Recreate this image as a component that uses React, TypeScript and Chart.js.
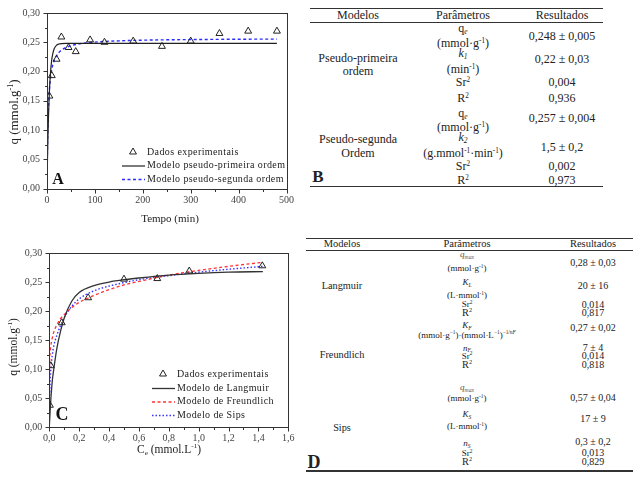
import React, { useEffect, useRef } from "react";
import { Chart, registerables } from "chart.js";
Chart.register(...registerables);

const SERIF = '"Liberation Serif", Tinos, "DejaVu Serif", serif';

// ---------- Panel A: kinetics ----------
const timeExp = [5, 10, 20, 30, 45, 60, 90, 120, 180, 240, 300, 360, 420, 480];
const qTimeExp = [0.158, 0.193, 0.221, 0.259, 0.241, 0.234, 0.254, 0.25, 0.252, 0.243, 0.252, 0.265, 0.269, 0.269];
const timeFit = [0, 1, 2, 3, 4, 5, 6, 8, 10, 12, 15, 20, 25, 30, 40, 50, 60, 80, 100, 150, 200, 250, 300, 350, 400, 450, 480];
const qPFO = [0, 0.049, 0.088, 0.12, 0.145, 0.165, 0.182, 0.205, 0.221, 0.23, 0.239, 0.245, 0.247, 0.2477, 0.248, 0.248, 0.248, 0.248, 0.248, 0.248, 0.248, 0.248, 0.248, 0.248, 0.248, 0.248, 0.248];
const qPSO = [0, 0.0715, 0.1118, 0.1377, 0.1558, 0.1691, 0.1793, 0.1939, 0.2039, 0.2112, 0.2189, 0.2273, 0.2327, 0.2364, 0.2412, 0.2441, 0.2462, 0.2487, 0.2503, 0.2524, 0.2535, 0.2542, 0.2546, 0.2549, 0.2552, 0.2553, 0.2554];
const labelsA = ["Dados experimentais", "Modelo pseudo-primeira ordem", "Modelo pseudo-segunda ordem"];
const xTicksA = { min: 0, max: 500, step: 100 };

// ---------- Panel C: isotherms ----------
const ceExp = [0.004, 0.01, 0.083, 0.26, 0.5, 0.723, 0.937, 1.426];
const qeExp = [0.038, 0.106, 0.18, 0.223, 0.255, 0.256, 0.269, 0.278];
const ceFit = [0, 0.002, 0.005, 0.01, 0.02, 0.03, 0.05, 0.075, 0.1, 0.15, 0.2, 0.3, 0.4, 0.5, 0.6, 0.8, 1.0, 1.2, 1.43];
const qLangmuir = [0, 0.011, 0.026, 0.047, 0.08, 0.1, 0.135, 0.165, 0.188, 0.217, 0.232, 0.244, 0.25, 0.254, 0.257, 0.262, 0.265, 0.267, 0.268];
const qFreundlich = [0, 0.111, 0.127, 0.14, 0.154, 0.164, 0.176, 0.187, 0.194, 0.206, 0.215, 0.227, 0.237, 0.245, 0.251, 0.262, 0.27, 0.277, 0.284];
const qSips = [0, 0.05, 0.075, 0.098, 0.124, 0.14, 0.158, 0.175, 0.189, 0.208, 0.221, 0.235, 0.243, 0.249, 0.254, 0.261, 0.267, 0.272, 0.277];
const labelsC = ["Dados experimentais", "Modelo de Langmuir", "Modelo de Freundlich", "Modelo de Sips"];
const xTicksC = { min: 0, max: 1.6, step: 0.2 };
const yTicks = { min: 0, max: 0.3, step: 0.05 };

// ---------- Tables ----------
const headers = ["Modelos", "Parâmetros", "Resultados"];
const modelsB = [["Pseudo-primeira", "ordem"], ["Pseudo-segunda", "Ordem"]];
const resultsB = ["0,248 ± 0,005", "0,22 ± 0,03", "0,004", "0,936", "0,257 ± 0,004", "1,5 ± 0,2", "0,002", "0,973"];
const modelsD = ["Langmuir", "Freundlich", "Sips"];
const resultsD = ["0,28 ± 0,03", "20 ± 16", "0,014", "0,817", "0,27 ± 0,02", "7 ± 4", "0,014", "0,818", "0,57 ± 0,04", "17 ± 9", "0,3 ± 0,2", "0,013", "0,829"];

type Seg = { t: string; sup?: boolean; sub?: boolean; it?: boolean };

function segFont(s: Seg, size: number) {
  const sz = s.sup || s.sub ? size * 0.62 : size;
  return `${s.it ? "italic " : ""}${sz}px ${SERIF}`;
}
function drawRich(ctx: CanvasRenderingContext2D, segs: Seg[], cx: number, cy: number, size: number) {
  let w = 0;
  for (const s of segs) { ctx.font = segFont(s, size); w += ctx.measureText(s.t).width; }
  let x = cx - w / 2;
  ctx.textAlign = "left";
  ctx.textBaseline = "alphabetic";
  const base = cy + size * 0.33;
  for (const s of segs) {
    ctx.font = segFont(s, size);
    const dy = s.sup ? -size * 0.42 : s.sub ? size * 0.2 : 0;
    ctx.fillText(s.t, x, base + dy);
    x += ctx.measureText(s.t).width;
  }
}

interface DecorCfg {
  xMajor: number; xMinor: number; yMajor: number; yMinor: number;
  xTitle: Seg[]; xTitlePos: [number, number]; xTitleSize: number;
  yTitle: Seg[]; yTitlePos: [number, number]; yTitleSize: number;
  legendYs: number[]; legendLine: [number, number]; legendPointX: number; legendTextX: number;
  letter: string; letterPos: [number, number]; letterSize: number;
}

function makeDecor(c: DecorCfg) {
  return {
    id: "decor",
    afterDraw(chart: any) {
      const ctx: CanvasRenderingContext2D = chart.ctx;
      const a = chart.chartArea;
      const xs = chart.scales.x, ys = chart.scales.y;
      ctx.save();
      ctx.strokeStyle = "#333";
      ctx.lineWidth = 1;
      ctx.setLineDash([]);
      const L = Math.round(a.left) + 0.5, R = Math.round(a.right) + 0.5;
      const T = Math.round(a.top) + 0.5, B = Math.round(a.bottom) + 0.5;
      ctx.strokeRect(L, T, R - L, B - T);
      ctx.beginPath();
      const nx = Math.round((xs.max - xs.min) / c.xMinor);
      const rx = Math.round(c.xMajor / c.xMinor);
      for (let i = 0; i <= nx; i++) {
        const p = Math.round(xs.getPixelForValue(xs.min + i * c.xMinor)) + 0.5;
        const len = i % rx === 0 ? 4 : 2.5;
        ctx.moveTo(p, B); ctx.lineTo(p, B + len);
      }
      const ny = Math.round((ys.max - ys.min) / c.yMinor);
      const ry = Math.round(c.yMajor / c.yMinor);
      for (let i = 0; i <= ny; i++) {
        const p = Math.round(ys.getPixelForValue(ys.min + i * c.yMinor)) + 0.5;
        const len = i % ry === 0 ? 4 : 2.5;
        ctx.moveTo(L, p); ctx.lineTo(L - len, p);
      }
      ctx.stroke();

      ctx.fillStyle = "#222";
      drawRich(ctx, c.xTitle, c.xTitlePos[0], c.xTitlePos[1], c.xTitleSize);
      ctx.save();
      ctx.translate(c.yTitlePos[0], c.yTitlePos[1]);
      ctx.rotate(-Math.PI / 2);
      drawRich(ctx, c.yTitle, 0, 0, c.yTitleSize);
      ctx.restore();

      // legend
      chart.data.datasets.forEach((ds: any, i: number) => {
        const y = c.legendYs[i];
        if (y === undefined) return;
        if (ds.showLine === false) {
          const r = ds.pointRadius;
          ctx.beginPath();
          let rad = 0;
          const px = c.legendPointX;
          ctx.moveTo(px + Math.sin(rad) * r, y - Math.cos(rad) * r);
          rad += (2 * Math.PI) / 3;
          ctx.lineTo(px + Math.sin(rad) * r, y - Math.cos(rad) * r);
          rad += (2 * Math.PI) / 3;
          ctx.lineTo(px + Math.sin(rad) * r, y - Math.cos(rad) * r);
          ctx.closePath();
          ctx.strokeStyle = ds.pointBorderColor;
          ctx.lineWidth = 1;
          ctx.setLineDash([]);
          ctx.stroke();
        } else {
          ctx.beginPath();
          ctx.strokeStyle = ds.borderColor;
          ctx.lineWidth = ds.borderWidth;
          ctx.setLineDash(ds.borderDash || []);
          ctx.moveTo(c.legendLine[0], y + 0.5);
          ctx.lineTo(c.legendLine[1], y + 0.5);
          ctx.stroke();
          ctx.setLineDash([]);
        }
        ctx.fillStyle = "#222";
        ctx.font = `10px ${SERIF}`;
        (ctx as any).letterSpacing = "0.4px";
        ctx.textAlign = "left";
        ctx.textBaseline = "middle";
        ctx.fillText(ds.label, c.legendTextX, y);
        (ctx as any).letterSpacing = "0px";
      });

      ctx.fillStyle = "#111";
      ctx.font = `bold ${c.letterSize}px ${SERIF}`;
      ctx.textAlign = "center";
      ctx.textBaseline = "middle";
      ctx.fillText(c.letter, c.letterPos[0], c.letterPos[1]);
      ctx.restore();
    },
  };
}

function axes(xt: { min: number; max: number; step: number }, xFmt: (v: number) => string, yW: number, xH: number, yPad: number, xPad: number) {
  return {
    x: {
      type: "linear" as const,
      min: xt.min, max: xt.max,
      grid: { display: false, drawTicks: false },
      border: { display: false },
      afterFit: (s: any) => { s.height = xH; },
      ticks: { stepSize: xt.step, padding: xPad, color: "#444", font: { family: SERIF, size: 10 }, callback: (v: any) => xFmt(Number(v)), maxRotation: 0, autoSkip: false },
    },
    y: {
      type: "linear" as const,
      min: yTicks.min, max: yTicks.max,
      grid: { display: false, drawTicks: false },
      border: { display: false },
      afterFit: (s: any) => { s.width = yW; },
      ticks: { stepSize: yTicks.step, padding: yPad, color: "#444", font: { family: SERIF, size: 10 }, callback: (v: any) => Number(v).toFixed(2).replace(".", ",") },
    },
  };
}

function pts(xs: number[], ys: number[]) {
  return xs.map((x, i) => ({ x, y: ys[i] }));
}

const expStyle = {
  showLine: false,
  pointStyle: "triangle",
  pointRadius: 4,
  pointBorderColor: "#222",
  pointBackgroundColor: "rgba(255,255,255,0)",
  pointBorderWidth: 1,
  borderColor: "#222",
};

function lineStyle(color: string, width: number, dash: number[]) {
  return { borderColor: color, borderWidth: width, borderDash: dash, pointRadius: 0, cubicInterpolationMode: "monotone", fill: false };
}

const Sup = ({ children }: { children: React.ReactNode }) => (
  <span style={{ fontSize: "0.6em", position: "relative", top: "-0.6em" }}>{children}</span>
);
const Sub = ({ children }: { children: React.ReactNode }) => (
  <span style={{ fontSize: "0.62em", position: "relative", top: "0.3em" }}>{children}</span>
);

const paramsB: React.ReactNode[] = [
  <>q<Sub><i>e</i></Sub></>,
  <>(mmol·g<Sup>-1</Sup>)</>,
  <><i>k</i><Sub><i>1</i></Sub></>,
  <>(min<Sup>-1</Sup>)</>,
  <>Sr<Sup>2</Sup></>,
  <>R<Sup>2</Sup></>,
  <>q<Sub><i>e</i></Sub></>,
  <>(mmol·g<Sup>-1</Sup>)</>,
  <><i>k</i><Sub><i>2</i></Sub></>,
  <>(g.mmol<Sup>-1</Sup>·min<Sup>-1</Sup>)</>,
  <>Sr<Sup>2</Sup></>,
  <>R<Sup>2</Sup></>,
];

const paramsD: React.ReactNode[] = [
  <i style={{ color: "#555" }}>q<Sub>max</Sub></i>,
  <>(mmol·g<Sup>-1</Sup>)</>,
  <i>K<Sub>L</Sub></i>,
  <>(L·mmol<Sup>-1</Sup>)</>,
  <>Sr<Sup>2</Sup></>,
  <span style={{ fontSize: "1.15em" }}>R<Sup>2</Sup></span>,
  <i>K<Sub>F</Sub></i>,
  <>(mmol·g<Sup>−1</Sup>)·(mmol·L<Sup>−1</Sup>)<Sup>−1/<i>nF</i></Sup></>,
  <i>n<Sub>F</Sub></i>,
  <>Sr<Sup>2</Sup></>,
  <span style={{ fontSize: "1.15em" }}>R<Sup>2</Sup></span>,
  <i style={{ color: "#555" }}>q<Sub>max</Sub></i>,
  <>(mmol·g<Sup>-1</Sup>)</>,
  <i>K<Sub>S</Sub></i>,
  <>(L·mmol<Sup>-1</Sup>)</>,
  <i>n<Sub>S</Sub></i>,
  <>Sr<Sup>2</Sup></>,
  <span style={{ fontSize: "1.15em" }}>R<Sup>2</Sup></span>,
];

// layout (text centre positions)
const layB = {
  cols: [358, 463, 562], header: 15, lines: [8.3, 22.7, 186.7], x0: 310, x1: 603,
  models: [[58, 71], [139, 153]],
  params: [28, 43, 53, 69, 82, 98, 113, 127, 137, 153, 166, 180],
  results: [36, 59, 82, 98, 118, 147, 166, 180],
};
const layD = {
  cols: [342, 467, 593], header: 244, lines: [238.3, 250, 471], x0: 306, x1: 633,
  models: [286, 355, 428],
  params: [254, 268, 282, 295, 304, 313, 325, 334.5, 347.5, 355.5, 365, 387, 398, 414, 426, 443, 453, 462],
  results: [262.7, 286, 304.5, 313, 327.7, 347.7, 355.7, 365, 397.7, 419.3, 441.7, 453.3, 462.3],
};

const T = ({ x, y, size, bold, children }: { x: number; y: number; size: number; bold?: boolean; children: React.ReactNode }) => (
  <div style={{ position: "absolute", left: x, top: y, transform: "translate(-50%,-50%)", fontSize: size, lineHeight: 1, whiteSpace: "nowrap", fontWeight: bold ? 700 : 400 }}>{children}</div>
);
const HLine = ({ x0, x1, y, w }: { x0: number; x1: number; y: number; w: number }) => (
  <div style={{ position: "absolute", left: x0, top: y - w / 2, width: x1 - x0, height: w, background: "#333" }} />
);

export default function App() {
  const refA = useRef<HTMLCanvasElement>(null);
  const refC = useRef<HTMLCanvasElement>(null);

  useEffect(() => {
    const chartA = new Chart(refA.current!, {
      type: "line",
      data: {
        datasets: [
          { label: labelsA[0], data: pts(timeExp, qTimeExp), ...expStyle } as any,
          { label: labelsA[1], data: pts(timeFit, qPFO), ...lineStyle("#222", 1.2, []) } as any,
          { label: labelsA[2], data: pts(timeFit, qPSO), ...lineStyle("#2b2bff", 1.4, [3, 2.5]) } as any,
        ],
      },
      options: {
        responsive: false,
        animation: false,
        layout: { padding: { top: 7.5, right: 7, left: 0, bottom: 0 } },
        plugins: { legend: { display: false }, tooltip: { enabled: false } },
        scales: axes(xTicksA, (v) => String(Math.round(v)), 47, 43.5, 7, 6) as any,
      },
      plugins: [
        makeDecor({
          xMajor: 100, xMinor: 50, yMajor: 0.05, yMinor: 0.025,
          xTitle: [{ t: "Tempo (min)" }], xTitlePos: [170, 218], xTitleSize: 11,
          yTitle: [{ t: "q (mmol.g" }, { t: "-1", sup: true }, { t: ")" }], yTitlePos: [14, 112], yTitleSize: 13,
          legendYs: [152, 165.5, 179], legendLine: [122, 145], legendPointX: 133, legendTextX: 147,
          letter: "A", letterPos: [58, 180], letterSize: 16,
        }),
      ],
    });

    const chartC = new Chart(refC.current!, {
      type: "line",
      data: {
        datasets: [
          { label: labelsC[0], data: pts(ceExp, qeExp), ...expStyle } as any,
          { label: labelsC[1], data: pts(ceFit, qLangmuir), ...lineStyle("#333", 1.3, []) } as any,
          { label: labelsC[2], data: pts(ceFit, qFreundlich), ...lineStyle("#ff3333", 1.3, [3, 2.5]) } as any,
          { label: labelsC[3], data: pts(ceFit, qSips), ...lineStyle("#3333ff", 1.4, [1.5, 2]) } as any,
        ],
      },
      options: {
        responsive: false,
        animation: false,
        layout: { padding: { top: 11, right: 11.7, left: 0, bottom: 0 } },
        plugins: { legend: { display: false }, tooltip: { enabled: false } },
        scales: axes(xTicksC, (v) => v.toFixed(1).replace(".", ","), 49.3, 52.7, 7, 5) as any,
      },
      plugins: [
        makeDecor({
          xMajor: 0.2, xMinor: 0.1, yMajor: 0.05, yMinor: 0.025,
          xTitle: [{ t: "C" }, { t: "e", sub: true }, { t: " (mmol.L" }, { t: "-1", sup: true }, { t: ")" }], xTitlePos: [169, 209], xTitleSize: 11.5,
          yTitle: [{ t: "q (mmol.g" }, { t: "-1", sup: true }, { t: ")" }], yTitlePos: [13, 107], yTitleSize: 11.5,
          legendYs: [134, 148, 161.5, 175], legendLine: [152, 175], legendPointX: 163, legendTextX: 177,
          letter: "C", letterPos: [62, 175], letterSize: 18,
        }),
      ],
    });

    return () => { chartA.destroy(); chartC.destroy(); };
  }, []);

  return (
    <div style={{ position: "fixed", left: 0, top: 0, width: 640, height: 480, background: "#fff", fontFamily: SERIF, color: "#222", overflow: "hidden" }}>
      <canvas ref={refA} width={300} height={232} style={{ position: "absolute", left: 0, top: 0 }} />
      <canvas ref={refC} width={300} height={240} style={{ position: "absolute", left: 0, top: 240 }} />

      {/* Table B */}
      <HLine x0={layB.x0} x1={layB.x1} y={layB.lines[0]} w={1.5} />
      <HLine x0={layB.x0} x1={layB.x1} y={layB.lines[1]} w={1} />
      <HLine x0={layB.x0} x1={layB.x1} y={layB.lines[2]} w={1.5} />
      {headers.map((h, i) => <T key={"hb" + i} x={layB.cols[i]} y={layB.header} size={12}>{h}</T>)}
      {modelsB.map((m, i) => m.map((line, j) => <T key={"mb" + i + j} x={layB.cols[0]} y={layB.models[i][j]} size={12}>{line}</T>))}
      {paramsB.map((p, i) => <T key={"pb" + i} x={layB.cols[1]} y={layB.params[i]} size={12}>{p}</T>)}
      {resultsB.map((r, i) => <T key={"rb" + i} x={layB.cols[2]} y={layB.results[i]} size={12}>{r}</T>)}
      <T x={318} y={176} size={17} bold>B</T>

      {/* Table D */}
      <HLine x0={layD.x0} x1={layD.x1} y={layD.lines[0]} w={1.5} />
      <HLine x0={layD.x0} x1={layD.x1} y={layD.lines[1]} w={1} />
      <HLine x0={layD.x0} x1={layD.x1} y={layD.lines[2]} w={1.5} />
      {headers.map((h, i) => <T key={"hd" + i} x={layD.cols[i]} y={layD.header} size={10.5}>{h}</T>)}
      {modelsD.map((m, i) => <T key={"md" + i} x={layD.cols[0]} y={layD.models[i]} size={10.3}>{m}</T>)}
      {paramsD.map((p, i) => <T key={"pd" + i} x={layD.cols[1]} y={layD.params[i]} size={9}>{p}</T>)}
      {resultsD.map((r, i) => <T key={"rd" + i} x={layD.cols[2]} y={layD.results[i]} size={10}>{r}</T>)}
      <T x={314} y={462} size={18} bold>D</T>
    </div>
  );
}
